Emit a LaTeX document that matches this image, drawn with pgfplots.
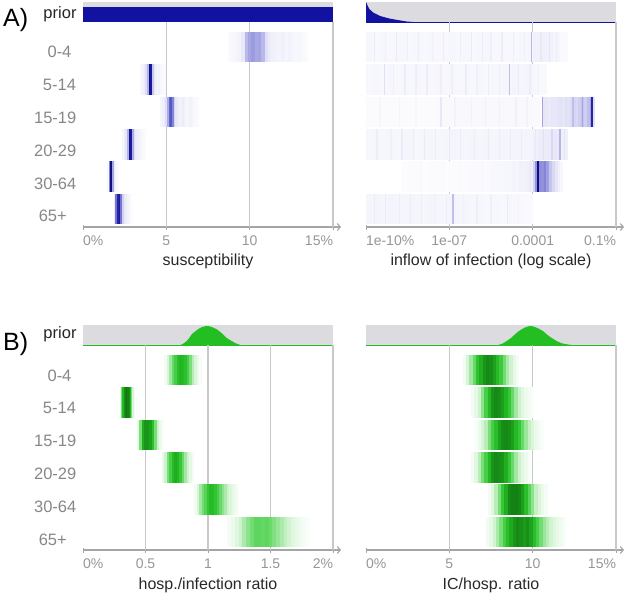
\documentclass[border=0pt]{standalone}
\usepackage{pgfplots}
\pgfplotsset{compat=1.18}
\usetikzlibrary{arrows.meta}
\usepackage{fontspec}
\setmainfont{Liberation Sans}
\definecolor{priorgrey}{RGB}{220,220,224}
\definecolor{gridc}{RGB}{200,200,200}
\definecolor{axisc}{RGB}{165,165,165}
\definecolor{tickc}{RGB}{150,150,150}
\definecolor{rowc}{RGB}{135,135,135}
\definecolor{labc}{RGB}{40,40,40}
\definecolor{pblue}{RGB}{18,18,160}
\definecolor{pgreen}{RGB}{34,190,34}
\tikzset{gl/.style={gridc, line width=1.2pt}}
\pgfplotsset{
 colormap={blues}{rgb255(0cm)=(255,255,255) rgb255(1cm)=(230,230,248) rgb255(3cm)=(165,165,228) rgb255(6cm)=(70,70,190) rgb255(8cm)=(25,25,155) rgb255(10cm)=(15,15,125)},
 colormap={greens}{rgb255(0cm)=(255,255,255) rgb255(2cm)=(205,242,205) rgb255(4cm)=(120,222,120) rgb255(6cm)=(55,200,55) rgb255(7.5cm)=(35,185,35) rgb255(9cm)=(25,150,25) rgb255(10cm)=(18,120,18)},
 panel/.style={scale only axis, width=250pt, height=225pt, anchor=north west,
   ymin=0, ymax=225, enlargelimits=false, axis y line=none, axis x line=bottom,
   x axis line style={draw=axisc, line width=1.1pt, -{Straight Barb[length=3pt,width=7pt]}, shorten >=-8pt},
   xtick style={draw=axisc, line width=0.9pt}, major tick length=5pt, tick align=center,
   xticklabel style={text=tickc, font=\fontsize{14}{14}\selectfont, anchor=base, yshift=-16.3pt},
   point meta min=0, point meta max=1, clip=false},
 strip/.style={scatter, only marks, mark=|, mark size=15.25pt, point meta=explicit,
   scatter/use mapped color={draw=mapped color}, mark options={line width=#1}},
}
\newcommand{\rowlab}[3]{\node[anchor=base, inner sep=0, text=rowc, font=\fontsize{16.5}{16.5}\selectfont] at (#1pt,-#2pt) {#3};}
\begin{document}
\begin{tikzpicture}
\useasboundingbox (0,0) rectangle (626pt,-596pt);
% ---------------- A) left: susceptibility
\begin{axis}[panel, at={(83pt,-2pt)}, xmin=0, xmax=15, colormap name=blues,
  xtick={0,5,10,15}, xticklabels={\rlap{0\%},5,10,\llap{15\%}}]
\fill[priorgrey] (0,205) rectangle (15,225);
\addplot[fill=pblue, draw=none] coordinates {(0,205)(0,220)(15,220)(15,205)} -- cycle;
\addplot[strip=3.6pt] table[x index=0, y expr=180, meta index=1, row sep=\\] {x c\\
8.8 0.02\\ 9.0 0.03\\ 9.2 0.04\\ 9.4 0.05\\ 9.6 0.09\\ 9.8 0.24\\ 10.0 0.3\\ 10.2 0.33\\ 10.4 0.29\\ 10.6 0.3\\ 10.8 0.24\\ 11.0 0.12\\ 11.2 0.08\\ 11.4 0.06\\ 11.6 0.05\\ 11.8 0.045\\ 12.0 0.055\\ 12.2 0.04\\ 12.4 0.05\\ 12.6 0.04\\ 12.8 0.03\\ 13.0 0.035\\ 13.2 0.025\\ 13.4 0.015\\};
\addplot[strip=1.9pt] table[x index=0, y expr=147.5, meta index=1, row sep=\\] {x c\\
3.5 0.03\\ 3.6 0.05\\ 3.7 0.08\\ 3.8 0.12\\ 3.9 0.25\\ 4.0 0.95\\ 4.1 0.8\\ 4.2 0.2\\ 4.3 0.08\\ 4.4 0.06\\ 4.5 0.04\\ 4.6 0.05\\ 4.7 0.03\\ 4.8 0.02\\ 4.9 0.015\\};
\addplot[strip=1.9pt] table[x index=0, y expr=115, meta index=1, row sep=\\] {x c\\
4.7 0.04\\ 4.8 0.06\\ 4.9 0.08\\ 5.0 0.12\\ 5.1 0.28\\ 5.2 0.5\\ 5.3 0.55\\ 5.4 0.4\\ 5.5 0.16\\ 5.6 0.1\\ 5.7 0.07\\ 5.8 0.06\\ 5.9 0.05\\ 6.0 0.07\\ 6.1 0.06\\ 6.2 0.04\\ 6.3 0.035\\ 6.4 0.06\\ 6.5 0.05\\ 6.6 0.035\\ 6.7 0.025\\ 6.8 0.02\\ 6.9 0.015\\};
\addplot[strip=1.9pt] table[x index=0, y expr=82.5, meta index=1, row sep=\\] {x c\\
2.4 0.04\\ 2.5 0.06\\ 2.6 0.1\\ 2.7 0.25\\ 2.8 0.9\\ 2.9 0.8\\ 3.0 0.28\\ 3.1 0.12\\ 3.2 0.08\\ 3.3 0.06\\ 3.4 0.05\\ 3.5 0.04\\ 3.6 0.025\\ 3.7 0.015\\};
\addplot[strip=1.9pt] table[x index=0, y expr=50.5, meta index=1, row sep=\\] {x c\\
1.5 0.03\\ 1.6 0.4\\ 1.7 1.0\\ 1.8 0.3\\ 1.9 0.08\\ 2.0 0.04\\ 2.1 0.015\\};
\addplot[strip=1.9pt] table[x index=0, y expr=18, meta index=1, row sep=\\] {x c\\
1.9 0.08\\ 2.0 0.45\\ 2.1 0.75\\ 2.2 0.8\\ 2.3 0.45\\ 2.4 0.16\\ 2.5 0.1\\ 2.6 0.07\\ 2.7 0.05\\ 2.8 0.03\\ 2.9 0.015\\};
\draw[gl] (5,0) -- (5,205); \draw[gl] (10,0) -- (10,205); \draw[gl] (15,0) -- (15,205);
\end{axis}
% ---------------- A) right: inflow
\begin{axis}[panel, at={(366pt,-2pt)}, xmin=-10, xmax=-1, colormap name=blues,
  xtick={-10,-7,-4,-1}, xticklabels={\rlap{1e-10\%},1e-07,0.0001,\llap{0.1\%}}]
\fill[priorgrey] (-10,205) rectangle (-1,225);
\addplot[fill=pblue, draw=none] coordinates {(-10,205)(-10,225)(-9.952,222)(-9.88,218)(-9.737,214.4)(-9.496,211)(-9.136,208.3)(-8.776,206.6)(-8.535,205.5)(-8.3,205)} -- cycle;
\draw[pblue, line width=0.8pt] (-10,205) -- (-1,205);
% 0-4
\addplot[strip=7.2pt] table[x index=0, y expr=180, meta index=1, row sep=\\] {x c\\
-9.875 0.035\\ -9.625 0.03\\ -9.375 0.035\\ -9.125 0.03\\ -8.875 0.035\\ -8.625 0.035\\ -8.375 0.03\\ -8.125 0.035\\ -7.875 0.03\\ -7.625 0.035\\ -7.375 0.03\\ -7.125 0.03\\ -6.875 0.035\\ -6.625 0.03\\ -6.375 0.035\\ -6.125 0.03\\ -5.875 0.035\\ -5.625 0.035\\ -5.375 0.03\\ -5.125 0.035\\ -4.875 0.03\\ -4.625 0.03\\ -4.375 0.035\\ -4.125 0.035\\ -3.875 0.055\\ -3.625 0.06\\ -3.375 0.055\\ -3.125 0.04\\ -2.875 0.02\\};
\addplot[strip=1.4pt] table[x index=0, y expr=180, meta index=1, row sep=\\] {x c\\
-9.7 0.07\\ -9.3 0.06\\ -8.9 0.08\\ -8.5 0.065\\ -8.1 0.07\\ -7.6 0.06\\ -7.2 0.07\\ -6.6 0.06\\ -6.2 0.08\\ -5.8 0.07\\ -5.5 0.06\\ -5.1 0.07\\ -4.7 0.065\\ -4.3 0.06\\ -4.04 0.25\\ -3.7 0.09\\ -3.4 0.1\\ -3.15 0.08\\};
% 5-14
\addplot[strip=7.2pt] table[x index=0, y expr=147.5, meta index=1, row sep=\\] {x c\\
-9.875 0.03\\ -9.625 0.035\\ -9.375 0.03\\ -9.125 0.035\\ -8.875 0.03\\ -8.625 0.035\\ -8.375 0.03\\ -8.125 0.035\\ -7.875 0.03\\ -7.625 0.03\\ -7.375 0.035\\ -7.125 0.03\\ -6.875 0.035\\ -6.625 0.03\\ -6.375 0.035\\ -6.125 0.03\\ -5.875 0.035\\ -5.625 0.03\\ -5.375 0.035\\ -5.125 0.035\\ -4.875 0.04\\ -4.625 0.045\\ -4.375 0.04\\ -4.125 0.045\\ -3.875 0.035\\ -3.625 0.025\\};
\addplot[strip=1.4pt] table[x index=0, y expr=147.5, meta index=1, row sep=\\] {x c\\
-9.34 0.12\\ -9.0 0.06\\ -8.6 0.07\\ -8.2 0.065\\ -7.8 0.07\\ -7.3 0.06\\ -6.9 0.065\\ -6.4 0.07\\ -6.0 0.06\\ -5.6 0.07\\ -5.2 0.065\\ -4.84 0.22\\ -4.5 0.08\\ -4.1 0.07\\ -3.8 0.06\\};
% 15-19
\addplot[strip=7.2pt] table[x index=0, y expr=115, meta index=1, row sep=\\] {x c\\
-9.875 0.015\\ -9.625 0.015\\ -9.375 0.015\\ -9.125 0.015\\ -8.875 0.015\\ -8.625 0.015\\ -8.375 0.015\\ -8.125 0.015\\ -7.875 0.015\\ -7.625 0.015\\ -7.375 0.02\\ -7.125 0.025\\ -6.875 0.025\\ -6.625 0.025\\ -6.375 0.025\\ -6.125 0.025\\ -5.875 0.025\\ -5.625 0.025\\ -5.375 0.025\\ -5.125 0.025\\ -4.875 0.025\\ -4.625 0.025\\ -4.375 0.025\\ -4.125 0.025\\ -3.875 0.02\\};
\addplot[strip=3.0pt] table[x index=0, y expr=115, meta index=1, row sep=\\] {x c\\
-3.6 0.1\\ -3.5 0.09\\ -3.4 0.085\\ -3.3 0.1\\ -3.2 0.09\\ -3.1 0.1\\ -3.0 0.11\\ -2.9 0.1\\ -2.8 0.12\\ -2.7 0.11\\ -2.6 0.13\\ -2.5 0.15\\ -2.4 0.14\\ -2.3 0.17\\ -2.2 0.2\\ -2.1 0.17\\ -2.0 0.22\\ -1.9 0.3\\ -1.8 0.12\\};
\addplot[strip=1.4pt] table[x index=0, y expr=115, meta index=1, row sep=\\] {x c\\
-9.5 0.04\\ -8.8 0.045\\ -8.2 0.035\\ -7.3 0.09\\ -6.8 0.05\\ -6.2 0.05\\ -5.7 0.055\\ -5.2 0.05\\ -4.6 0.055\\ -4.2 0.05\\ -3.64 0.3\\ -2.55 0.22\\ -2.2 0.3\\};
\addplot[strip=2.2pt] table[x index=0, y expr=115, meta index=1, row sep=\\] {x c\\ -1.87 0.75\\};
% 20-29
\addplot[strip=7.2pt] table[x index=0, y expr=82.5, meta index=1, row sep=\\] {x c\\
-9.875 0.035\\ -9.625 0.04\\ -9.375 0.035\\ -9.125 0.04\\ -8.875 0.035\\ -8.625 0.04\\ -8.375 0.04\\ -8.125 0.035\\ -7.875 0.04\\ -7.625 0.04\\ -7.375 0.035\\ -7.125 0.04\\ -6.875 0.045\\ -6.625 0.04\\ -6.375 0.04\\ -6.125 0.045\\ -5.875 0.04\\ -5.625 0.045\\ -5.375 0.04\\ -5.125 0.045\\ -4.875 0.04\\ -4.625 0.045\\ -4.375 0.045\\ -4.125 0.045\\ -3.875 0.06\\ -3.625 0.07\\ -3.375 0.08\\ -3.125 0.09\\ -2.875 0.06\\};
\addplot[strip=1.4pt] table[x index=0, y expr=82.5, meta index=1, row sep=\\] {x c\\
-9.6 0.07\\ -9.1 0.06\\ -8.7 0.08\\ -8.3 0.07\\ -7.9 0.085\\ -7.5 0.07\\ -7.0 0.085\\ -6.6 0.08\\ -6.1 0.07\\ -5.6 0.085\\ -5.2 0.07\\ -4.8 0.08\\ -4.4 0.07\\ -3.9 0.09\\ -3.6 0.12\\ -3.3 0.14\\ -3.02 0.25\\ -2.85 0.11\\};
% 30-64
\addplot[strip=7.2pt] table[x index=0, y expr=50.5, meta index=1, row sep=\\] {x c\\
-8.625 0.01\\ -8.375 0.015\\ -8.125 0.015\\ -7.875 0.01\\ -7.625 0.015\\ -7.375 0.015\\ -7.125 0.01\\ -6.875 0.015\\ -6.625 0.015\\ -6.375 0.015\\ -6.125 0.02\\ -5.875 0.02\\ -5.625 0.02\\ -5.375 0.03\\ -5.125 0.03\\ -4.875 0.035\\ -4.625 0.04\\ -4.375 0.05\\ -4.125 0.06\\};
\addplot[strip=3.0pt] table[x index=0, y expr=50.5, meta index=1, row sep=\\] {x c\\
-3.95 0.16\\ -3.85 0.35\\ -3.75 0.38\\ -3.65 0.36\\ -3.55 0.4\\ -3.45 0.32\\ -3.35 0.2\\ -3.25 0.14\\ -3.15 0.1\\ -3.05 0.06\\ -2.95 0.03\\};
\addplot[strip=1.4pt] table[x index=0, y expr=50.5, meta index=1, row sep=\\] {x c\\
-8.0 0.035\\ -7.2 0.03\\ -6.6 0.035\\ -5.8 0.04\\ -5.3 0.035\\ -4.7 0.055\\ -4.4 0.06\\ -4.1 0.08\\};
\addplot[strip=2.2pt] table[x index=0, y expr=50.5, meta index=1, row sep=\\] {x c\\ -3.81 0.95\\};
% 65+
\addplot[strip=7.2pt] table[x index=0, y expr=18, meta index=1, row sep=\\] {x c\\
-9.875 0.04\\ -9.625 0.045\\ -9.375 0.04\\ -9.125 0.045\\ -8.875 0.04\\ -8.625 0.04\\ -8.375 0.045\\ -8.125 0.04\\ -7.875 0.04\\ -7.625 0.045\\ -7.375 0.04\\ -7.125 0.04\\ -6.875 0.045\\ -6.625 0.04\\ -6.375 0.04\\ -6.125 0.035\\ -5.875 0.035\\ -5.625 0.03\\ -5.375 0.035\\ -5.125 0.03\\ -4.875 0.035\\ -4.625 0.03\\ -4.375 0.025\\ -4.125 0.02\\};
\addplot[strip=1.4pt] table[x index=0, y expr=18, meta index=1, row sep=\\] {x c\\
-9.7 0.07\\ -9.3 0.08\\ -8.8 0.07\\ -8.4 0.08\\ -8.0 0.07\\ -7.5 0.065\\ -7.1 0.07\\ -6.87 0.22\\ -6.5 0.06\\ -6.0 0.065\\ -5.5 0.06\\ -4.9 0.08\\ -4.5 0.05\\};
\draw[gl] (-7,0) -- (-7,205); \draw[gl] (-4,0) -- (-4,205); \draw[gl] (-1,0) -- (-1,205);
\end{axis}
% ---------------- B) left: hosp./infection
\begin{axis}[panel, at={(83pt,-325pt)}, xmin=0, xmax=2, colormap name=greens,
  xtick={0,0.5,1,1.5,2}, xticklabels={\rlap{0\%},0.5,1,1.5,\llap{2\%}}]
\fill[priorgrey] (0,205) rectangle (2,225);
\addplot[fill=pgreen, draw=none, smooth] coordinates {(0.78,205)(0.8,206.2)(0.83,209)(0.85,212)(0.87,215.7)(0.9,218.8)(0.92,220.7)(0.95,222.8)(0.99,224)(1.03,223)(1.07,220.7)(1.1,217.8)(1.12,215.7)(1.15,212)(1.19,209)(1.22,206.8)(1.26,205)} -- cycle;
\draw[pgreen, line width=0.8pt] (0,205) -- (2,205);
\addplot[strip=2.75pt] table[x index=0, y expr=180, meta index=1, row sep=\\] {x c\\
0.66 0.05\\ 0.68 0.15\\ 0.70 0.3\\ 0.72 0.45\\ 0.74 0.55\\ 0.76 0.7\\ 0.78 0.77\\ 0.80 0.74\\ 0.82 0.68\\ 0.84 0.55\\ 0.86 0.4\\ 0.88 0.25\\ 0.90 0.15\\ 0.92 0.08\\ 0.94 0.03\\};
\addplot[strip=1.5pt] table[x index=0, y expr=147.5, meta index=1, row sep=\\] {x c\\
0.30 0.1\\ 0.31 0.4\\ 0.32 0.75\\ 0.33 0.92\\ 0.34 0.97\\ 0.35 1.0\\ 0.36 0.97\\ 0.37 0.92\\ 0.38 0.75\\ 0.39 0.4\\ 0.40 0.15\\ 0.41 0.05\\};
\addplot[strip=2.75pt] table[x index=0, y expr=115, meta index=1, row sep=\\] {x c\\
0.44 0.1\\ 0.46 0.4\\ 0.48 0.8\\ 0.50 0.9\\ 0.52 0.9\\ 0.54 0.85\\ 0.56 0.68\\ 0.58 0.4\\ 0.60 0.2\\ 0.62 0.08\\ 0.64 0.02\\};
\addplot[strip=2.75pt] table[x index=0, y expr=82.5, meta index=1, row sep=\\] {x c\\
0.64 0.08\\ 0.66 0.2\\ 0.68 0.4\\ 0.70 0.55\\ 0.72 0.72\\ 0.74 0.8\\ 0.76 0.76\\ 0.78 0.6\\ 0.80 0.45\\ 0.82 0.3\\ 0.84 0.18\\ 0.86 0.1\\ 0.88 0.04\\};
\addplot[strip=2.75pt] table[x index=0, y expr=50.5, meta index=1, row sep=\\] {x c\\
0.90 0.05\\ 0.92 0.15\\ 0.94 0.3\\ 0.96 0.42\\ 0.98 0.5\\ 1.00 0.62\\ 1.02 0.72\\ 1.04 0.72\\ 1.06 0.64\\ 1.08 0.55\\ 1.10 0.45\\ 1.12 0.35\\ 1.14 0.28\\ 1.16 0.2\\ 1.18 0.14\\ 1.20 0.1\\ 1.22 0.06\\ 1.24 0.03\\};
\addplot[strip=4.0pt] table[x index=0, y expr=18, meta index=1, row sep=\\] {x c\\
1.17 0.04\\ 1.20 0.08\\ 1.23 0.13\\ 1.26 0.2\\ 1.29 0.28\\ 1.32 0.35\\ 1.35 0.42\\ 1.38 0.48\\ 1.41 0.48\\ 1.44 0.46\\ 1.47 0.48\\ 1.50 0.44\\ 1.53 0.38\\ 1.56 0.33\\ 1.59 0.28\\ 1.62 0.23\\ 1.65 0.18\\ 1.68 0.13\\ 1.71 0.09\\ 1.74 0.06\\ 1.77 0.04\\ 1.80 0.02\\};
\draw[gl] (0.5,0) -- (0.5,205); \draw[gl] (1,0) -- (1,205); \draw[gl] (1.5,0) -- (1.5,205); \draw[gl] (2,0) -- (2,205);
\end{axis}
% ---------------- B) right: IC/hosp.
\begin{axis}[panel, at={(366pt,-325pt)}, xmin=0, xmax=15, colormap name=greens,
  xtick={0,5,10,15}, xticklabels={\rlap{0\%},5,10,\llap{15\%}}]
\fill[priorgrey] (0,205) rectangle (15,225);
\addplot[fill=pgreen, draw=none, smooth] coordinates {(7.94,205)(8.2,206.5)(8.44,209)(8.7,212)(8.94,215.7)(9.1,218)(9.34,220.7)(9.6,223)(9.84,224)(10.1,223.2)(10.44,220.7)(10.65,218.5)(10.84,215.7)(11.1,212.5)(11.44,209)(11.8,206.5)(12.34,205)} -- cycle;
\draw[pgreen, line width=0.8pt] (0,205) -- (15,205);
\addplot[strip=3.6pt] table[x index=0, y expr=180, meta index=1, row sep=\\] {x c\\
5.9 0.05\\ 6.1 0.15\\ 6.3 0.3\\ 6.5 0.45\\ 6.7 0.65\\ 6.9 0.8\\ 7.1 0.9\\ 7.3 0.94\\ 7.5 0.92\\ 7.7 0.85\\ 7.9 0.72\\ 8.1 0.58\\ 8.3 0.42\\ 8.5 0.28\\ 8.7 0.18\\ 8.9 0.1\\ 9.1 0.04\\};
\addplot[strip=3.6pt] table[x index=0, y expr=147.5, meta index=1, row sep=\\] {x c\\
6.4 0.04\\ 6.6 0.1\\ 6.8 0.2\\ 7.0 0.35\\ 7.2 0.55\\ 7.4 0.75\\ 7.6 0.9\\ 7.8 0.94\\ 8.0 0.92\\ 8.2 0.86\\ 8.4 0.76\\ 8.6 0.6\\ 8.8 0.45\\ 9.0 0.3\\ 9.2 0.2\\ 9.4 0.12\\ 9.6 0.07\\ 9.8 0.04\\ 10.0 0.02\\};
\addplot[strip=3.6pt] table[x index=0, y expr=115, meta index=1, row sep=\\] {x c\\
6.6 0.03\\ 6.8 0.08\\ 7.0 0.15\\ 7.2 0.25\\ 7.4 0.4\\ 7.6 0.55\\ 7.8 0.7\\ 8.0 0.85\\ 8.2 0.93\\ 8.4 0.94\\ 8.6 0.92\\ 8.8 0.86\\ 9.0 0.74\\ 9.2 0.6\\ 9.4 0.45\\ 9.6 0.32\\ 9.8 0.22\\ 10.0 0.14\\ 10.2 0.08\\ 10.4 0.04\\ 10.6 0.02\\};
\addplot[strip=3.6pt] table[x index=0, y expr=82.5, meta index=1, row sep=\\] {x c\\
6.4 0.04\\ 6.6 0.12\\ 6.8 0.25\\ 7.0 0.4\\ 7.2 0.55\\ 7.4 0.75\\ 7.6 0.9\\ 7.8 0.94\\ 8.0 0.92\\ 8.2 0.9\\ 8.4 0.8\\ 8.6 0.6\\ 8.8 0.45\\ 9.0 0.3\\ 9.2 0.2\\ 9.4 0.12\\ 9.6 0.07\\ 9.8 0.03\\};
\addplot[strip=3.6pt] table[x index=0, y expr=50.5, meta index=1, row sep=\\] {x c\\
7.4 0.05\\ 7.6 0.12\\ 7.8 0.25\\ 8.0 0.4\\ 8.2 0.6\\ 8.4 0.8\\ 8.6 0.94\\ 8.8 0.97\\ 9.0 0.97\\ 9.2 0.95\\ 9.4 0.86\\ 9.6 0.7\\ 9.8 0.5\\ 10.0 0.35\\ 10.2 0.22\\ 10.4 0.14\\ 10.6 0.08\\ 10.8 0.04\\};
\addplot[strip=3.6pt] table[x index=0, y expr=18, meta index=1, row sep=\\] {x c\\
7.3 0.05\\ 7.5 0.1\\ 7.7 0.18\\ 7.9 0.28\\ 8.1 0.4\\ 8.3 0.55\\ 8.5 0.7\\ 8.7 0.82\\ 8.9 0.9\\ 9.1 0.94\\ 9.3 0.92\\ 9.5 0.88\\ 9.7 0.92\\ 9.9 0.85\\ 10.1 0.7\\ 10.3 0.55\\ 10.5 0.42\\ 10.7 0.32\\ 10.9 0.25\\ 11.1 0.18\\ 11.3 0.13\\ 11.5 0.09\\ 11.7 0.06\\ 11.9 0.03\\};
\draw[gl] (5,0) -- (5,205); \draw[gl] (10,0) -- (10,205); \draw[gl] (15,0) -- (15,205);
\end{axis}
% ---------------- labels
\node[anchor=base west, inner sep=0, font=\fontsize{25}{25}\selectfont] at (3pt,-26.7pt) {A)};
\node[anchor=base west, inner sep=0, font=\fontsize{25}{25}\selectfont] at (3pt,-350pt) {B)};
\node[anchor=base, inner sep=0, text=black!85, font=\fontsize{16.5}{16.5}\selectfont] at (60pt,-18.5pt) {prior};
\node[anchor=base, inner sep=0, text=black!85, font=\fontsize{16.5}{16.5}\selectfont] at (60pt,-338.7pt) {prior};
\rowlab{59.5}{58}{0-4}\rowlab{59.5}{90.8}{5-14}\rowlab{55.2}{123.6}{15-19}\rowlab{55.2}{156.4}{20-29}\rowlab{55.2}{189.2}{30-64}\rowlab{52.8}{222}{65+}
\rowlab{59.5}{381}{0-4}\rowlab{59.5}{413.8}{5-14}\rowlab{55.2}{446.6}{15-19}\rowlab{55.2}{479.4}{20-29}\rowlab{55.2}{512.2}{30-64}\rowlab{52.8}{545}{65+}
\node[anchor=base, inner sep=0, text=labc, font=\fontsize{16}{16}\selectfont] at (208pt,-265pt) {susceptibility};
\node[anchor=base, inner sep=0, text=labc, font=\fontsize{16}{16}\selectfont] at (491pt,-265pt) {inflow of infection (log scale)};
\node[anchor=base, inner sep=0, text=labc, font=\fontsize{16}{16}\selectfont] at (208pt,-589.5pt) {hosp./infection ratio};
\node[anchor=base, inner sep=0, text=labc, font=\fontsize{16}{16}\selectfont] at (491pt,-589.5pt) {IC/hosp. ratio};
\end{tikzpicture}
\end{document}
